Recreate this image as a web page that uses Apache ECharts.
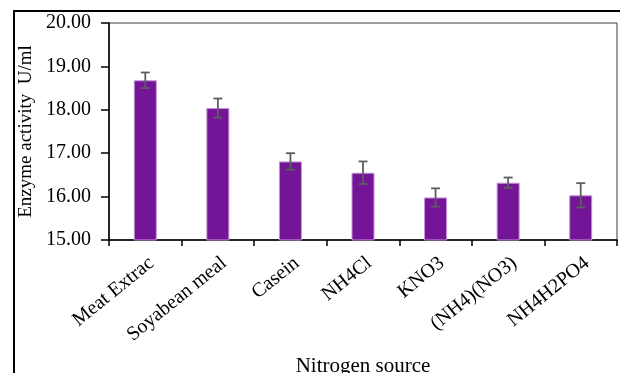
<!DOCTYPE html>
<html>
<head>
<meta charset="utf-8">
<script src="https://cdn.jsdelivr.net/npm/echarts@6/dist/echarts.min.js"></script>
<style>
  html, body { margin: 0; padding: 0; background: #fff; }
  #chart { width: 620px; height: 373px; position: relative; }
  #frame {
    position: absolute; left: 13px; top: 10px; right: 0; bottom: 0;
    border-top: 2px solid #000; border-left: 2px solid #000;
    pointer-events: none;
  }
</style>
</head>
<body>
<div style="position:relative;width:620px;height:373px;">
  <div id="chart"></div>
  <div id="frame"></div>
</div>
<script>
// Nitrogen sources tested and the mean enzyme activity (U/ml) for each
const categories = ['Meat Extrac', 'Soyabean meal', 'Casein', 'NH4Cl', 'KNO3', '(NH4)(NO3)', 'NH4H2PO4'];
const activity = [18.68, 18.04, 16.81, 16.55, 15.98, 16.32, 16.03];
// Standard deviation shown as error bars
const stdDev = [0.18, 0.22, 0.19, 0.26, 0.21, 0.12, 0.28];
// Value axis range and ticks
const yMin = 15, yMax = 20, yStep = 1;

const font = 'Liberation Serif';
const errorData = categories.map((c, i) => [i, activity[i] - stdDev[i], activity[i] + stdDev[i]]);

const chart = echarts.init(document.getElementById('chart'), null, { renderer: 'canvas' });
chart.setOption({
  animation: false,
  backgroundColor: '#fff',
  grid: {
    left: 109, top: 23, right: 3, bottom: 133,
    outerBoundsMode: 'none',
    containLabel: false,
    show: true, borderColor: '#3a3a3a', borderWidth: 1, backgroundColor: 'transparent'
  },
  xAxis: {
    type: 'category',
    data: categories,
    name: 'Nitrogen source',
    nameLocation: 'middle',
    nameGap: 116,
    nameTextStyle: { fontFamily: font, fontSize: 21, color: '#000', verticalAlign: 'top' },
    axisLine: { lineStyle: { color: '#000', width: 1.5 } },
    axisTick: { show: true, length: 6, alignWithLabel: false, lineStyle: { color: '#000', width: 1.5 } },
    axisLabel: { rotate: 39, margin: 13, verticalAlign: 'top', fontFamily: font, fontSize: 20, color: '#000', interval: 0 },
    splitLine: { show: false }
  },
  yAxis: {
    type: 'value',
    min: yMin, max: yMax, interval: yStep,
    name: 'Enzyme activity  U/ml',
    nameLocation: 'middle',
    nameGap: 70,
    nameTextStyle: { fontFamily: font, fontSize: 19, color: '#000' },
    axisLine: { show: true, lineStyle: { color: '#000', width: 1.5 } },
    axisTick: { show: true, length: 8, lineStyle: { color: '#000', width: 1.5 } },
    axisLabel: { margin: 18, fontFamily: font, fontSize: 20, color: '#000', formatter: v => v.toFixed(2) },
    splitLine: { show: false }
  },
  series: [
    {
      type: 'bar',
      data: activity,
      barWidth: 23,
      itemStyle: { color: '#741496', borderColor: '#c591d6', borderWidth: 1 }
    },
    {
      type: 'custom',
      data: errorData,
      z: 10,
      renderItem: (params, api) => {
        const i = api.value(0);
        const lo = api.coord([i, api.value(1)]);
        const hi = api.coord([i, api.value(2)]);
        const cap = 4.5;
        const style = { stroke: '#5e5e5e', lineWidth: 1.8, fill: null };
        return {
          type: 'group',
          children: [
            { type: 'line', shape: { x1: hi[0], y1: hi[1], x2: lo[0], y2: lo[1] }, style },
            { type: 'line', shape: { x1: hi[0] - cap, y1: hi[1], x2: hi[0] + cap, y2: hi[1] }, style },
            { type: 'line', shape: { x1: lo[0] - cap, y1: lo[1], x2: lo[0] + cap, y2: lo[1] }, style }
          ]
        };
      }
    }
  ]
});
</script>
</body>
</html>
